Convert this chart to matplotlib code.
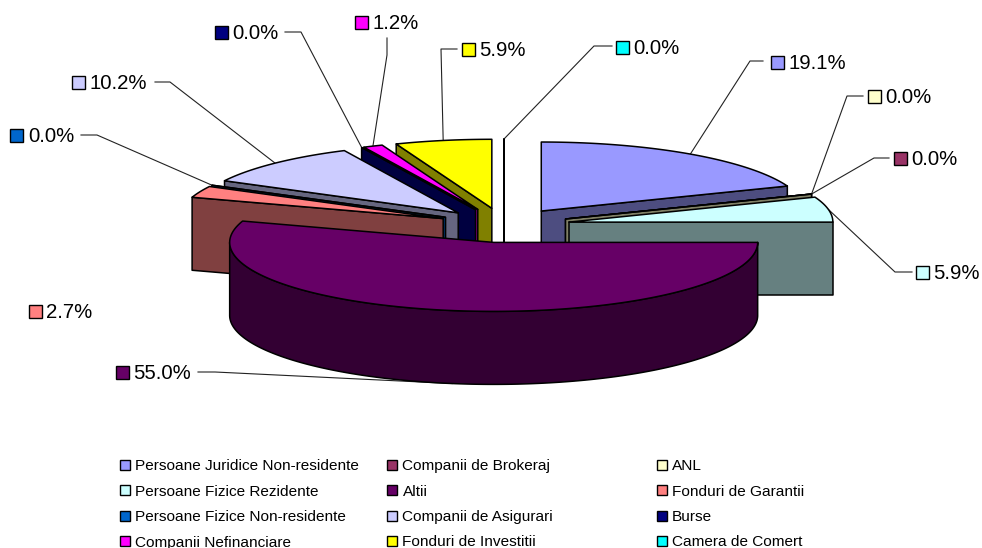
#!/usr/bin/env python3
### Exploded 3D style pie chart, drawn by hand since matplotlib has no 3D pie

import numpy as np
import matplotlib
matplotlib.use("Agg")
import matplotlib.pyplot as plt
from matplotlib.patches import Polygon, Rectangle

plt.rcParams['font.family'] = ['Liberation Sans', 'DejaVu Sans']

# slices, clockwise from 12 o'clock
slice_names = ["Persoane Juridice Non-residente", "ANL", "Companii de Brokeraj",
               "Persoane Fizice Rezidente", "Altii", "Fonduri de Garantii",
               "Persoane Fizice Non-residente", "Companii de Asigurari", "Burse",
               "Companii Nefinanciare", "Fonduri de Investitii", "Camera de Comert"]
slice_values = [19.1, 0.0, 0.0, 5.9, 55.0, 2.7, 0.0, 10.2, 0.0, 1.2, 5.9, 0.0]
slice_colors = ["#9999FF", "#FFFFCC", "#993366", "#CCFFFF", "#660066", "#FF8080",
                "#0066CC", "#CCCCFF", "#000080", "#FF00FF", "#FFFF00", "#00FFFF"]
# back to front, painter style
draw_order = [11, 10, 9, 8, 7, 6, 5, 0, 2, 1, 3, 4]

legend_names = ["Persoane Juridice Non-residente", "Companii de Brokeraj", "ANL",
                "Persoane Fizice Rezidente", "Altii", "Fonduri de Garantii",
                "Persoane Fizice Non-residente", "Companii de Asigurari", "Burse",
                "Companii Nefinanciare", "Fonduri de Investitii", "Camera de Comert"]

# pie geometry in pixels
cx, cy = 504, 225.3
rx, ry = 264, 69
explode_x, explode_y = 66, 17.3
depth = 73

# key centre of each data label
label_keys = [(777, 62), (874, 96), (900, 158), (922, 272), (122, 372), (35, 311),
              (16.5, 135), (78, 82), (221, 32), (361, 22), (468, 49), (622, 47)]
# leader line from label to elbow, None where there is no line
leaders = [[(763, 61), (750, 61)], [(863, 96), (847, 96)], [(889, 158), (874, 158)],
           [(912, 272), (895, 272)], [(198, 372), (215, 372)], None,
           [(81, 135), (97, 135)], [(155, 82), (170, 82)], [(285, 32), (301, 32)],
           [(387, 38), (387, 55)], [(457, 49), (441, 49)], [(612, 46), (594, 46)]]

fig = plt.figure(figsize=(9.82, 5.48), dpi=100)
ax = fig.add_axes([0, 0, 1, 1])
ax.set_xlim(0, 982)
ax.set_ylim(548, 0)
ax.axis("off")


def shade(color):
    r, g, b = matplotlib.colors.to_rgb(color)
    return (r / 2, g / 2, b / 2)


def rim(apex, deg):
    t = np.radians(deg)
    return apex[0] + rx * np.sin(t), apex[1] - ry * np.cos(t)


def arc(apex, d1, d2):
    n = max(2, int(abs(d2 - d1) * 2))
    return [rim(apex, d) for d in np.linspace(d1, d2, n)]


def down(pts):
    return [(x, y + depth) for x, y in pts]


edges = np.concatenate([[0], np.cumsum(slice_values)]) / sum(slice_values) * 360
apexes = []
for i in range(len(slice_values)):
    mid = np.radians((edges[i] + edges[i + 1]) / 2)
    apexes.append((cx + explode_x * np.sin(mid), cy - explode_y * np.cos(mid)))

kw = dict(edgecolor="black", linewidth=1.1, joinstyle="round")


def draw_slice(i):
    a1, a2 = edges[i], edges[i + 1]
    apex = apexes[i]
    # the cut face that looks towards the viewer
    face = None
    if a2 <= 180:
        face = a2
    elif a1 >= 180:
        face = a1
    if face is not None:
        p = rim(apex, face)
        ax.add_patch(Polygon([apex, p, (p[0], p[1] + depth), (apex[0], apex[1] + depth)],
                             facecolor=shade(slice_colors[i]), zorder=5, **kw))
    # outer wall, front half only
    r1, r2 = max(a1, 90), min(a2, 270)
    if r2 > r1:
        wall = arc(apex, r1, r2)
        ax.add_patch(Polygon(wall + down(wall)[::-1], facecolor=shade(slice_colors[i]),
                             zorder=5, **kw))
    # top
    ax.add_patch(Polygon([apex] + arc(apex, a1, a2), facecolor=slice_colors[i], zorder=5, **kw))


# leader lines sit under the pie
for i, lead in enumerate(leaders):
    if lead is None:
        continue
    end = rim(apexes[i], (edges[i] + edges[i + 1]) / 2)
    if slice_values[i] > 50:
        end = (end[0], end[1] + depth)
    pts = lead + [end]
    ax.plot([p[0] for p in pts], [p[1] for p in pts], color="#222222", lw=0.8, zorder=3)

for i in draw_order:
    draw_slice(i)

# data labels
for i, (kx, ky) in enumerate(label_keys):
    ax.add_patch(Rectangle((kx - 6, ky - 6), 13, 13, facecolor=slice_colors[i],
                           edgecolor="black", linewidth=1.0, zorder=6))
    ax.text(kx + 11.5, ky + 7, "%.1f%%" % slice_values[i], fontsize=14.7, va="baseline",
            ha="left", color="black", zorder=6)

# legend
legend_x = [125, 392.5, 662]
legend_y = [464.5, 490, 515.5, 541]
for n, name in enumerate(legend_names):
    x = legend_x[n % 3]
    y = legend_y[n // 3]
    color = slice_colors[slice_names.index(name)]
    ax.add_patch(Rectangle((x - 5, y - 5), 10, 10, facecolor=color, edgecolor="black",
                           linewidth=1.0, zorder=6))
    ax.text(x + 10, y + 5.5, name, fontsize=11.05, va="baseline", ha="left",
            color="black", zorder=6)

fig.savefig("out.png", dpi=100)
plt.close(fig)
